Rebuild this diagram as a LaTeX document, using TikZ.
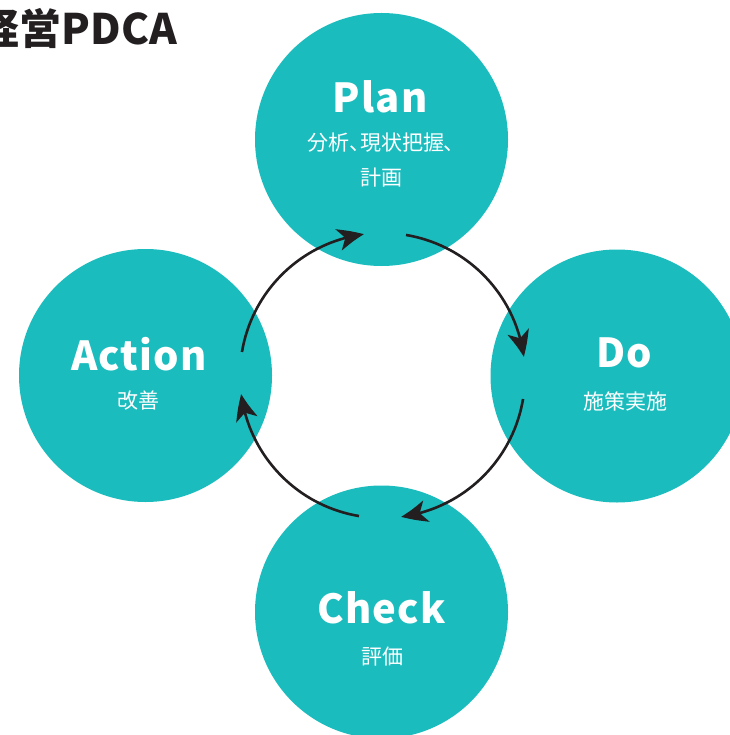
\documentclass[tikz,border=0pt]{standalone}
\usepackage{fontspec}
\usetikzlibrary{arrows.meta,bending}
\newfontfamily\cjk{Noto Sans CJK JP}
\newfontfamily\cjkp{Noto Sans CJK JP}[RawFeature=+palt]
\newfontfamily\latb{Noto Sans CJK JP}[LetterSpace=3]
\definecolor{teal1}{HTML}{1BBCBE}
\definecolor{ink}{HTML}{231F20}
\tikzset{
  phase/.style={circle,fill=teal1,draw=none,minimum size=253pt,inner sep=0pt},
  head/.style={text=white,font=\latb\bfseries\fontsize{40}{42}\selectfont,inner sep=0pt,anchor=center},
  sub/.style={text=white,font=\cjkp\fontsize{21}{35}\selectfont,inner sep=0pt,align=center,anchor=center},
  cyc/.style={draw=ink,line width=2.6pt,-{Stealth[length=26pt,width=22pt,inset=7pt,bend]}}
}
\begin{document}
\begin{tikzpicture}[x=1pt,y=1pt]
\useasboundingbox (0,0) rectangle (729,-735);
\fill[white] (0,0) rectangle (729,-735);
% circles
\node[phase] (plan) at (381.5,-139.5) {};
\node[phase] (do) at (617,-376) {};
\node[phase] (check) at (381.5,-612) {};
\node[phase] (action) at (145.5,-375.5) {};
% labels
\node[head] (planT) at (380,-97) {Plan};
\node[sub] (planS) at (381,-160) {分析、現状把握、\\計画};
\node[head] (doT) at (624,-353) {Do};
\node[sub] (doS) at (625,-401) {施策実施};
\node[head] (checkT) at (381.5,-608) {Check};
\node[sub] (checkS) at (382,-657) {評価};
\node[head] (actionT) at (139,-354) {Action};
\node[sub] (actionS) at (138,-401) {改善};
% title
\node[anchor=base east,inner sep=0pt,text=ink,font=\cjk\bfseries\fontsize{42}{46}\selectfont] (title) at (177,-45) {経営PDCA};
% cycle arrows
\coordinate (ctr) at (382.5,-375.5);
\draw[cyc] ([shift={(170.5:142.5)}]ctr) arc[start angle=170.5,end angle=97.5,radius=142.5];
\draw[cyc] ([shift={(80.5:142.5)}]ctr) arc[start angle=80.5,end angle=7.5,radius=142.5];
\draw[cyc] ([shift={(-9.5:142.5)}]ctr) arc[start angle=-9.5,end angle=-82.5,radius=142.5];
\draw[cyc] ([shift={(-99.5:142.5)}]ctr) arc[start angle=-99.5,end angle=-172.5,radius=142.5];
\end{tikzpicture}
\end{document}
